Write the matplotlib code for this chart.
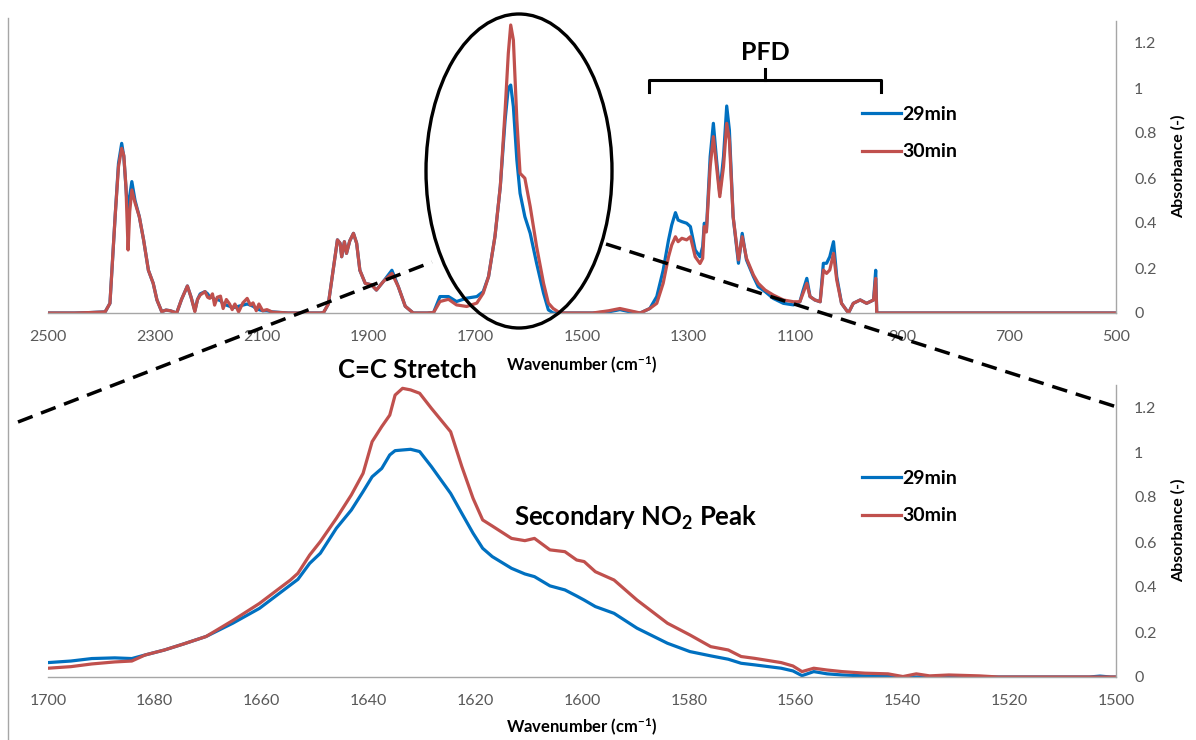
import numpy as np
import matplotlib
matplotlib.use("Agg")
import matplotlib.pyplot as plt
from matplotlib.patches import Ellipse

plt.rcParams['font.family'] = ['Lato', 'DejaVu Sans']
plt.rcParams['mathtext.fontset'] = 'custom'
plt.rcParams['mathtext.rm'] = 'Lato:bold'
plt.rcParams['mathtext.it'] = 'Lato:bold'
plt.rcParams['mathtext.bf'] = 'Lato:bold'

# full spectrum (wavenumber, absorbance)
wn_full = [2500, 2450, 2421, 2393, 2384, 2374, 2368, 2362, 2358, 2354, 2350, 2347, 2343, 2337,
           2329, 2321, 2312, 2303, 2296, 2287, 2279, 2271, 2259, 2250, 2239, 2232, 2225, 2220,
           2215, 2206, 2201, 2197, 2192, 2188, 2183, 2177, 2172, 2166, 2160, 2155, 2150, 2143,
           2135, 2127, 2121, 2116, 2110, 2105, 2098, 2090, 2080, 2050, 1990, 1984, 1975, 1966,
           1958, 1953, 1950, 1945, 1941, 1935, 1928, 1922, 1916, 1906, 1894, 1885, 1872, 1856,
           1844, 1831, 1816, 1790, 1778, 1766, 1750, 1735, 1716, 1697, 1685, 1675, 1663, 1653,
           1644, 1638, 1633.5, 1628.5, 1622, 1616, 1607, 1597, 1585, 1572, 1563, 1554, 1541,
           1480, 1450, 1429, 1410, 1391, 1373, 1360, 1348, 1338, 1332, 1325, 1320, 1313, 1304,
           1297, 1288, 1279, 1274, 1271, 1267, 1260, 1254, 1248, 1242, 1235, 1229, 1224, 1217,
           1207, 1200, 1192, 1179, 1170, 1157, 1142, 1123, 1104, 1092, 1086, 1079, 1073, 1064,
           1054, 1048, 1042, 1036, 1029, 1023, 1014, 1001, 992, 979, 967, 954, 950, 948, 500]
abs29_full = [0, 0, 0.002, 0.005, 0.043, 0.44, 0.665, 0.754, 0.695, 0.56, 0.42, 0.52, 0.584, 0.50,
              0.428, 0.325, 0.19, 0.132, 0.058, 0.006, 0.013, 0.01, 0.0, 0.06, 0.12, 0.07, 0.01, 0.06,
              0.085, 0.095, 0.085, 0.07, 0.07, 0.06, 0.06, 0.055, 0.04, 0.035, 0.03, 0.025, 0.025, 0.03,
              0.035, 0.04, 0.035, 0.03, 0.02, 0.015, 0.01, 0.01, 0.005, 0.0, 0.0, 0.002, 0.04, 0.19,
              0.325, 0.31, 0.25, 0.317, 0.265, 0.32, 0.354, 0.31, 0.19, 0.132, 0.125, 0.102, 0.14, 0.19,
              0.117, 0.03, 0.0, 0.0, 0.002, 0.073, 0.073, 0.051, 0.066, 0.073, 0.095, 0.162, 0.34, 0.562,
              0.858, 1.0, 1.013, 0.917, 0.68, 0.532, 0.428, 0.354, 0.221, 0.088, 0.014, 0.0, 0.0,
              0.0, 0.005, 0.015, 0.005, 0.0, 0.02, 0.073, 0.19, 0.324, 0.391, 0.446, 0.413, 0.406, 0.399,
              0.384, 0.28, 0.25, 0.295, 0.399, 0.37, 0.695, 0.843, 0.68, 0.532, 0.695, 0.92, 0.813, 0.428,
              0.221, 0.354, 0.236, 0.162, 0.117, 0.095, 0.065, 0.043, 0.036, 0.05, 0.1, 0.154, 0.073, 0.058,
              0.05, 0.221, 0.221, 0.25, 0.317, 0.162, 0.043, 0.0, 0.043, 0.058, 0.043, 0.058, 0.19, 0.0, 0.0]
abs30_full = [0, 0, 0.002, 0.005, 0.043, 0.44, 0.65, 0.732, 0.70, 0.56, 0.28, 0.45, 0.547, 0.49,
              0.428, 0.325, 0.19, 0.132, 0.058, 0.006, 0.013, 0.01, 0.0, 0.06, 0.12, 0.07, 0.006, 0.06,
              0.08, 0.095, 0.07, 0.065, 0.085, 0.035, 0.07, 0.075, 0.02, 0.06, 0.04, 0.015, 0.04, 0.005,
              0.045, 0.065, 0.035, 0.045, 0.01, 0.04, 0.01, 0.015, 0.004, 0.0, 0.0, 0.002, 0.04, 0.19,
              0.325, 0.31, 0.25, 0.317, 0.265, 0.32, 0.354, 0.31, 0.19, 0.132, 0.125, 0.102, 0.14, 0.176,
              0.117, 0.03, 0.0, 0.0, 0.002, 0.051, 0.061, 0.036, 0.029, 0.044, 0.088, 0.162, 0.34, 0.562,
              0.90, 1.154, 1.28, 1.213, 0.858, 0.621, 0.599, 0.473, 0.295, 0.132, 0.044, 0.02, 0.0,
              0.0, 0.01, 0.02, 0.01, 0.0, 0.02, 0.043, 0.132, 0.25, 0.302, 0.339, 0.317, 0.332, 0.325,
              0.339, 0.25, 0.22, 0.243, 0.384, 0.36, 0.65, 0.784, 0.65, 0.517, 0.65, 0.843, 0.769, 0.428,
              0.236, 0.339, 0.243, 0.169, 0.132, 0.102, 0.08, 0.058, 0.05, 0.05, 0.088, 0.132, 0.073, 0.058,
              0.05, 0.191, 0.176, 0.191, 0.265, 0.147, 0.043, 0.0, 0.043, 0.058, 0.043, 0.058, 0.154, 0.0, 0.0]

# zoom on the C=C stretch
wn_zoom = [1700, 1695.7, 1691.8, 1687.5, 1684.3, 1681.8, 1678.2, 1674.6, 1670.4, 1665.4, 1660.4,
           1654.6, 1653.2, 1651, 1649, 1646, 1643.2, 1641, 1639.3, 1637.5, 1636, 1635, 1633.6,
           1632.1, 1630.4, 1628.2, 1624.6, 1622.5, 1620.4, 1618.6, 1616.8, 1613.2, 1610.7, 1608.9,
           1606, 1603.2, 1601, 1599.6, 1597.5, 1594, 1589.7, 1584, 1579.8, 1575.9, 1572.6, 1570.2,
           1567.7, 1562.7, 1560.5, 1558.8, 1556.6, 1554.1, 1551.3, 1547, 1542.7, 1539.9, 1537.4,
           1534.9, 1531.3, 1525.6, 1522, 1505, 1503, 1501, 1500]
abs29_zoom = [0.064, 0.071, 0.082, 0.085, 0.082, 0.098, 0.12, 0.147, 0.18, 0.239, 0.305,
              0.409, 0.434, 0.505, 0.55, 0.661, 0.742, 0.824, 0.89, 0.927, 0.987, 1.006, 1.009,
              1.012, 1.002, 0.935, 0.816, 0.727, 0.639, 0.572, 0.535, 0.483, 0.458, 0.446,
              0.405, 0.387, 0.36, 0.342, 0.313, 0.283, 0.217, 0.15, 0.113, 0.094, 0.079, 0.061,
              0.054, 0.039, 0.027, 0.006, 0.024, 0.014, 0.009, 0.005, 0.002, 0.0, 0.0,
              0.0, 0.0, 0.0, 0.0, 0.0, 0.004, 0.0, 0.0]
abs30_zoom = [0.039, 0.046, 0.058, 0.067, 0.071, 0.098, 0.12, 0.147, 0.18, 0.251, 0.327,
              0.431, 0.461, 0.542, 0.602, 0.705, 0.809, 0.905, 1.046, 1.113, 1.164, 1.253, 1.283,
              1.276, 1.261, 1.194, 1.09, 0.935, 0.794, 0.698, 0.671, 0.616, 0.606, 0.616,
              0.565, 0.557, 0.52, 0.513, 0.468, 0.431, 0.342, 0.239, 0.187, 0.135, 0.12, 0.091,
              0.083, 0.064, 0.049, 0.024, 0.039, 0.031, 0.024, 0.017, 0.014, 0.002, 0.014,
              0.005, 0.009, 0.005, 0.0, 0.0, 0.0, 0.0, 0.0]

labels = ['29min', '30min']
colors = ['#0070C0', '#C0504D']
yticks = [0, 0.2, 0.4, 0.6, 0.8, 1.0, 1.2]

W, H = 1196, 740
fig = plt.figure(figsize=(W / 100, H / 100), dpi=100)

ax1 = fig.add_axes([48 / W, 1 - 313 / H, 1068 / W, 292.5 / H])
ax2 = fig.add_axes([48 / W, 1 - 677 / H, 1068 / W, 292.5 / H])


def style(ax, xlim, xticks, ylab_y):
    ax.set_xlim(*xlim)
    ax.set_ylim(0, 1.3)
    ax.set_xticks(xticks)
    ax.set_yticks(yticks)
    ax.set_yticklabels(['{:g}'.format(v) for v in yticks])
    ax.yaxis.tick_right()
    ax.tick_params(length=0, labelsize=11.5, labelcolor='#595959')
    ax.tick_params(axis='x', pad=12)
    ax.tick_params(axis='y', pad=13)
    for s in ['left', 'top']:
        ax.spines[s].set_visible(False)
    for s in ['right', 'bottom']:
        ax.spines[s].set_color('#A6A6A6')
        ax.spines[s].set_linewidth(1)
    ax.set_xlabel(r'Wavenumber (cm$^{-1}$)', fontsize=12, fontweight='bold')
    ax.xaxis.label.set_verticalalignment('center')
    ax.xaxis.set_label_coords(0.5, ylab_y)
    ax.yaxis.set_label_position('right')
    ax.set_ylabel('Absorbance (-)', fontsize=11.5, fontweight='bold')
    ax.yaxis.label.set_verticalalignment('center')
    ax.yaxis.set_label_coords(1.058, 0.5)
    ax.patch.set_alpha(0)
    ax.legend(loc='center left', bbox_to_anchor=(0.762, 0.615), frameon=False,
              prop={'size': 14, 'weight': 'bold'}, handlelength=2.0, handletextpad=0.1,
              labelspacing=1.05, borderpad=0, borderaxespad=0)


ax1.plot(wn_full, abs29_full, color=colors[0], lw=2.3, label=labels[0], solid_joinstyle='round')
ax1.plot(wn_full, abs30_full, color=colors[1], lw=2.3, label=labels[1], solid_joinstyle='round')
style(ax1, (2500, 500), list(range(2500, 499, -200)), -0.178)

ax2.plot(wn_zoom, abs29_zoom, color=colors[0], lw=2.3, label=labels[0], solid_joinstyle='round')
ax2.plot(wn_zoom, abs30_zoom, color=colors[1], lw=2.3, label=labels[1], solid_joinstyle='round')
style(ax2, (1700, 1500), list(range(1700, 1499, -20)), -0.174)

# annotation layer in pixel coordinates
ov = fig.add_axes([0, 0, 1, 1], zorder=10)
ov.set_xlim(0, W)
ov.set_ylim(H, 0)
ov.axis('off')
ov.patch.set_alpha(0)

ov.plot([8, 8], [18, H], color='#A6A6A6', lw=1)
ov.add_patch(Ellipse((519, 171), 186, 314, fill=False, ec='black', lw=2.4))
ov.plot([18, 432], [422, 262], color='black', lw=2.5, dashes=(4.5, 2.6))
ov.plot([606, 1120], [244, 408], color='black', lw=2.5, dashes=(4.5, 2.6))
ov.plot([649, 649, 881, 881], [92, 80, 80, 92], color='black', lw=2.2, solid_joinstyle='round')
ov.plot([765, 765], [80, 69], color='black', lw=2.2)
ov.text(765, 52, 'PFD', ha='center', va='center', fontsize=18, fontweight='bold')
ov.text(407, 370, 'C=C Stretch', ha='center', va='center', fontsize=18.5, fontweight='bold')
ov.text(636, 518, r'Secondary NO$_2$ Peak', ha='center', va='center', fontsize=18.5,
        fontweight='bold')

fig.savefig('out.png', dpi=100)
